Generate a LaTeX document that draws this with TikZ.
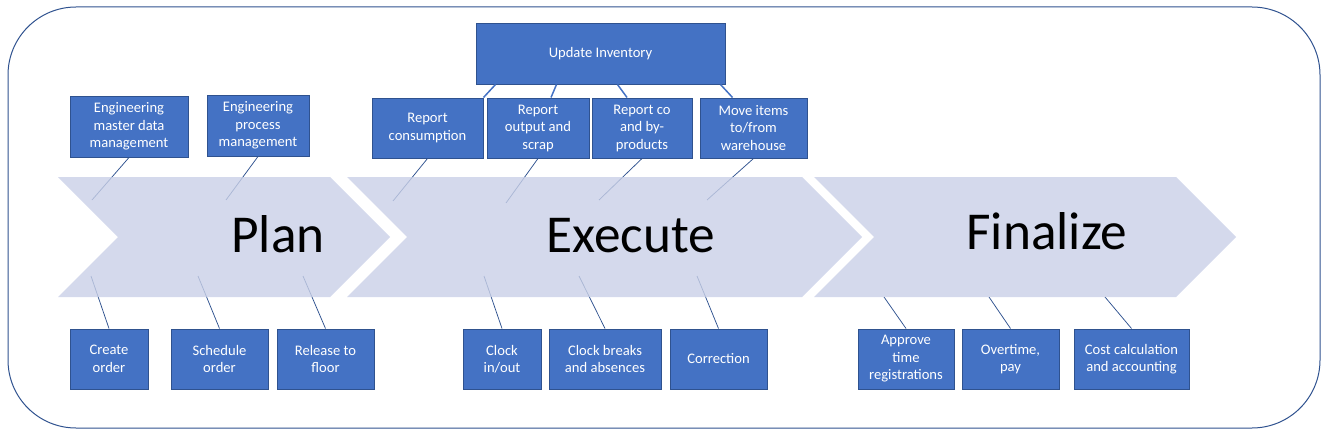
\documentclass[tikz,border=0pt]{standalone}
\usepackage{fontspec}
\setmainfont{Carlito}
\usepackage{xcolor}
\definecolor{taskfill}{RGB}{68,114,196}
\definecolor{taskedge}{RGB}{47,82,143}
\definecolor{phasefill}{RGB}{201,208,231}
\definecolor{outline}{RGB}{47,82,143}
\tikzstyle{task}=[draw=taskedge, fill=taskfill, text=white, align=center, inner sep=0pt, line width=1pt, minimum height=60pt, font=\fontsize{14.6}{17.5}\selectfont]
\tikzset{phase/.style={fill=phasefill, fill opacity=.8}}
\tikzset{link/.style={draw=taskedge, line width=.75pt}}
\tikzset{feed/.style={draw=taskfill, line width=1.5pt}}
\tikzstyle{phaselabel}=[anchor=base, inner sep=0pt, font=\fontsize{53.3}{60}\selectfont]

\begin{document}
\begin{tikzpicture}[x=1pt,y=-1pt]
  \useasboundingbox (0,0) rectangle (1330,436);
  \draw[outline, line width=1pt, rounded corners=68pt] (8,7) rectangle (1320,428);

  %% Tasks above the arrows
  \draw (129,126.5) node[task, minimum width=118pt, minimum height=61pt] (EMD) {Engineering\\master data\\management};
  \draw (258,125.5) node[task, minimum width=102pt, minimum height=61pt] (EPM) {Engineering\\process\\management};
  \draw (427.5,128) node[task, minimum width=111pt] (RC) {Report\\consumption};
  \draw (538,128) node[task, minimum width=102pt] (RO) {Report\\output and\\scrap};
  \draw (642,128) node[task, minimum width=100pt] (RCB) {Report co\\and by-\\products};
  \draw (753.5,128) node[task, minimum width=107pt] (MI) {Move items\\to/from\\warehouse};
  \draw (600.5,54) node[task, minimum width=249pt] (UI) {Update Inventory};

  %% Tasks below the arrows
  \draw (109,359) node[task, minimum width=78pt] (CO) {Create\\order};
  \draw (219.5,359) node[task, minimum width=97pt] (SO) {Schedule\\order};
  \draw (325.5,359) node[task, minimum width=97pt] (RF) {Release to\\floor};
  \draw (502,359) node[task, minimum width=78pt] (CIO) {Clock\\in/out};
  \draw (605,359) node[task, minimum width=112pt] (CBA) {Clock breaks\\and absences};
  \draw (718.5,359) node[task, minimum width=97pt] (COR) {Correction};
  \draw (906,359) node[task, minimum width=96pt] (ATR) {Approve\\time\\registrations};
  \draw (1010.5,359) node[task, minimum width=97pt] (OP) {Overtime,\\pay};
  \draw (1131.5,359) node[task, minimum width=115pt] (CCA) {Cost calculation\\and accounting};

  %% Ends of the links inside the arrows
  \coordinate (EMDend) at (92,200);
  \coordinate (EPMend) at (226,200);
  \coordinate (RCend) at (393,201);
  \coordinate (ROend) at (506,203);
  \coordinate (RCBend) at (599,200);
  \coordinate (MIend) at (707,200);
  \coordinate (COend) at (91,276);
  \coordinate (SOend) at (198,276);
  \coordinate (RFend) at (303,276);
  \coordinate (CIOend) at (484,276);
  \coordinate (CBAend) at (579,276);
  \coordinate (CORend) at (697,276);
  \coordinate (ATRend) at (884,297);
  \coordinate (OPend) at (989,297);
  \coordinate (CCAend) at (1105,297);

  \draw[link] (EMD.south) -- (EMDend);
  \draw[link] (EPM.south) -- (EPMend);
  \draw[link] (RC.south) -- (RCend);
  \draw[link] (RO.south) -- (ROend);
  \draw[link] (RCB.south) -- (RCBend);
  \draw[link] (MI.south) -- (MIend);
  \draw[link] (CO.north) -- (COend);
  \draw[link] (SO.north) -- (SOend);
  \draw[link] (RF.north) -- (RFend);
  \draw[link] (CIO.north) -- (CIOend);
  \draw[link] (CBA.north) -- (CBAend);
  \draw[link] (COR.north) -- (CORend);
  \draw[link] (ATR.north) -- (ATRend);
  \draw[link] (OP.north) -- (OPend);
  \draw[link] (CCA.north) -- (CCAend);

  %% The three phases
  \fill[phase] (58,177) -- (330,177) -- (390,237) -- (330,297) -- (58,297) -- (118,237) -- cycle;
  \fill[phase] (347,177) -- (802,177) -- (862,237) -- (802,297) -- (347,297) -- (407,237) -- cycle;
  \fill[phase] (814,177) -- (1176,177) -- (1236,237) -- (1176,297) -- (814,297) -- (874,237) -- cycle;
  \draw (278,252) node[phaselabel] (plan) {Plan};
  \draw (631,252) node[phaselabel] (execute) {Execute};
  \draw (1047,249) node[phaselabel] (finalize) {Finalize};

  %% Update Inventory feeds
  \draw[feed] ([xshift=20pt]UI.south west) -- (RC.north east);
  \draw[feed] ([xshift=81pt]UI.south west) -- ([xshift=13pt]RO.north);
  \draw[feed] ([xshift=142pt]UI.south west) -- ([xshift=-15pt]RCB.north);
  \draw[feed] ([xshift=-5pt]UI.south east) -- ([xshift=-21pt]MI.north);
\end{tikzpicture}
\end{document}
